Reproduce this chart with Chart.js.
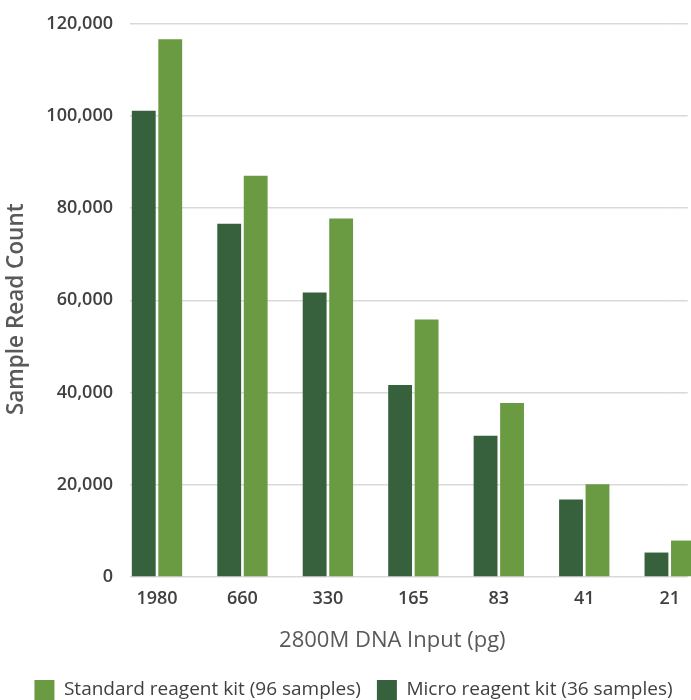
<!DOCTYPE html>
<html>
<head>
<meta charset="utf-8">
<title>Sample Read Count by 2800M DNA Input</title>
<script src="https://cdn.jsdelivr.net/npm/chart.js@4"></script>
<style>
  html, body { margin: 0; padding: 0; background: #ffffff; overflow: hidden; }
  #wrap { position: relative; width: 691px; height: 710px; }
</style>
</head>
<body>
<div id="wrap"><canvas id="chart"></canvas></div>
<script>
// DNA input amounts (pg) along the x axis
const inputs = ['1980', '660', '330', '165', '83', '41', '21'];

// Sample read counts per kit
const microReads = [101100, 76600, 61700, 41600, 30600, 16800, 5300];
const standardReads = [116600, 87000, 77700, 55800, 37700, 20100, 7900];

const seriesNames = ['Micro reagent kit (36 samples)', 'Standard reagent kit (96 samples)'];

// Value axis range
const yMin = 0;
const yMax = 120000;
const yStep = 20000;

const DARK_GREEN = '#37613d';
const LIGHT_GREEN = '#6a9b42';
const GRID = '#d9d9d9';

Chart.defaults.font.family = "'Open Sans', 'Noto Sans', sans-serif";
Chart.defaults.color = '#404040';

const fmt = v => Number(v).toLocaleString('en-US');

// small offsets for the legend and the two axis titles
const placement = {
  id: 'placement',
  afterLayout(chart) {
    if (chart.legend) {
      chart.legend.left += 8;
      chart.legend.right += 8;
    }
    [['x', -21, 0], ['y', 0, 9]].forEach(([id, dx, dy]) => {
      const s = chart.scales[id];
      if (!s || s._titleShifted) return;
      const draw = s.drawTitle;
      s.drawTitle = function () {
        const c = this.ctx;
        c.save();
        c.translate(dx, dy);
        draw.call(this);
        c.restore();
      };
      s._titleShifted = true;
    });
  }
};

new Chart(document.getElementById('chart'), {
  type: 'bar',
  data: {
    labels: inputs,
    datasets: [
      {
        label: seriesNames[0],
        data: microReads,
        backgroundColor: DARK_GREEN,
        borderWidth: 0,
        clip: false
      },
      {
        label: seriesNames[1],
        data: standardReads,
        backgroundColor: LIGHT_GREEN,
        borderWidth: 0,
        clip: false
      }
    ]
  },
  options: {
    responsive: true,
    maintainAspectRatio: false,
    animation: false,
    categoryPercentage: 0.62,
    barPercentage: 0.9,
    layout: { padding: { top: 23.5, left: 0, right: 0, bottom: 0 } },
    plugins: {
      legend: {
        position: 'bottom',
        labels: {
          boxWidth: 20,
          boxHeight: 20,
          padding: 16,
          color: '#404040',
          font: { size: 19 },
          sort: (a, b) => b.datasetIndex - a.datasetIndex
        }
      },
      tooltip: { enabled: false }
    },
    scales: {
      x: {
        type: 'category',
        offset: false,
        grid: { display: false, drawTicks: false },
        border: { display: false },
        ticks: {
          padding: 11,
          color: '#404040',
          font: { size: 18, weight: '600' },
          maxRotation: 0
        },
        title: {
          display: true,
          text: '2800M DNA Input (pg)',
          color: '#595959',
          font: { size: 22, weight: '400' },
          padding: { top: 0, bottom: 10 }
        },
        afterFit(scale) { scale.height = 87; }
      },
      y: {
        type: 'linear',
        position: 'left',
        min: yMin,
        max: yMax,
        grid: {
          color: GRID,
          lineWidth: 1.5,
          drawTicks: true,
          tickLength: 27,
          tickColor: GRID
        },
        border: { display: false },
        ticks: {
          stepSize: yStep,
          padding: 17,
          color: '#404040',
          font: { size: 18, weight: '600' },
          callback: v => fmt(v)
        },
        title: {
          display: true,
          text: 'Sample Read Count',
          color: '#595959',
          font: { size: 22.5, weight: '600' },
          padding: { top: 3.5, bottom: 0 }
        },
        afterFit(scale) {
          scale.width = 157;
          scale.paddingTop = 0;
          scale.paddingBottom = 0;
        }
      },
      yRight: {
        type: 'linear',
        position: 'right',
        min: yMin,
        max: yMax,
        grid: {
          color: GRID,
          lineWidth: 1.5,
          drawOnChartArea: false,
          drawTicks: true,
          tickLength: 18,
          tickColor: GRID
        },
        border: { display: false },
        ticks: { stepSize: yStep, display: false },
        afterFit(scale) {
          scale.width = 18;
          scale.paddingTop = 0;
          scale.paddingBottom = 0;
        }
      }
    }
  },
  plugins: [placement]
});
</script>
</body>
</html>
